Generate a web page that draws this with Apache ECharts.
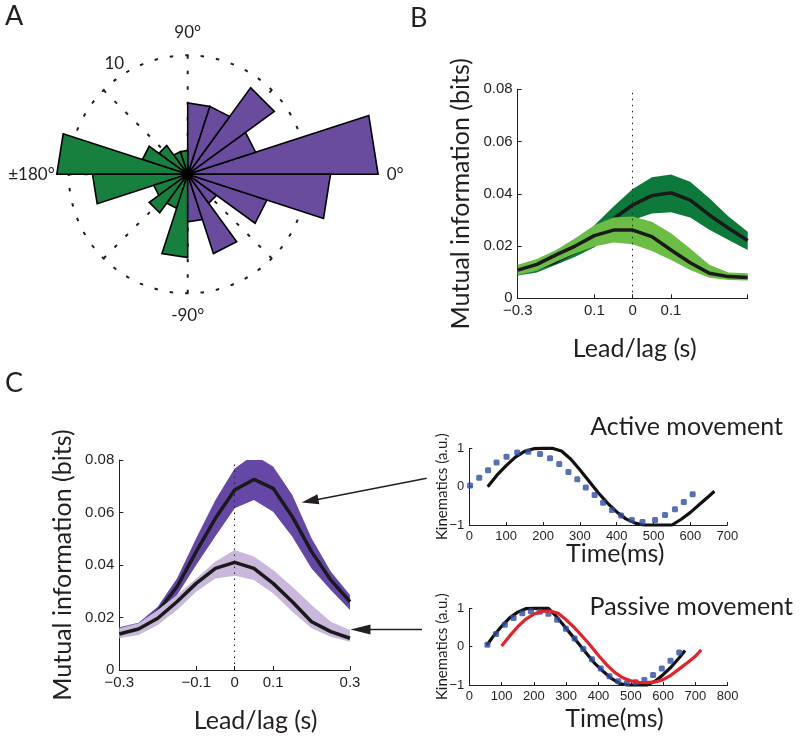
<!DOCTYPE html>
<html><head><meta charset="utf-8">
<script src="https://cdn.jsdelivr.net/npm/echarts@6/dist/echarts.min.js"></script>
<style>html,body{margin:0;padding:0;background:#fff}#c{width:800px;height:744px}</style>
</head><body><div id="c"></div>
<script>
// ---------- Panel A: rose histogram ----------
const roseBinStart = [0,18,36,54,72,90,108,126,144,162,180,198,216,234,252,270,288,306,324,342];
const roseBinEnd   = [18,36,54,72,90,108,126,144,162,180,198,216,234,252,270,288,306,324,342,360];
const roseCounts   = [16,6,9,6,6,2,2,3,4,11,8,3,4,3,7,4,7,3,7,12];
const roseGroup    = [0,0,0,0,0,1,1,1,1,1,1,1,1,1,1,0,0,0,0,0]; // 0 purple, 1 green
const roseAngleTicks  = [0,90,180,270];
const roseAngleLabels = ['0°','90°','±180°','-90°'];

// ---------- Panel B / C: lead-lag ----------
const leadLag = [-0.3,-0.25,-0.2,-0.15,-0.1,-0.05,0,0.05,0.1,0.15,0.2,0.25,0.3];
const darkGreenMean  = [0.0100,0.0115,0.0140,0.0180,0.0230,0.0305,0.0357,0.0393,0.0404,0.0376,0.0319,0.0268,0.0221];
const darkGreenUpper = [0.0112,0.0130,0.0160,0.0210,0.0280,0.0351,0.0418,0.0463,0.0474,0.0446,0.0383,0.0313,0.0255];
const darkGreenLower = [0.0087,0.0099,0.0128,0.0159,0.0195,0.0255,0.0300,0.0325,0.0329,0.0309,0.0262,0.0223,0.0185];
const lightGreenMean  = [0.0108,0.0130,0.0166,0.0200,0.0240,0.0261,0.0261,0.0236,0.0185,0.0136,0.0096,0.0083,0.0080];
const lightGreenUpper = [0.0128,0.0150,0.0185,0.0230,0.0280,0.0309,0.0313,0.0293,0.0249,0.0191,0.0128,0.0099,0.0096];
const lightGreenLower = [0.0089,0.0105,0.0140,0.0172,0.0198,0.0214,0.0207,0.0181,0.0147,0.0108,0.0079,0.0070,0.0068];

const darkPurpleMean  = [0.0149,0.0165,0.0222,0.0317,0.0451,0.0578,0.0686,0.0726,0.0692,0.0584,0.0451,0.0343,0.0260];
const darkPurpleUpper = [0.0163,0.0180,0.0241,0.0349,0.0502,0.0648,0.0768,0.0820,0.0775,0.0667,0.0502,0.0375,0.0286];
const darkPurpleLower = [0.0135,0.0150,0.0195,0.0285,0.0400,0.0510,0.0616,0.0648,0.0603,0.0508,0.0387,0.0305,0.0229];
const lightPurpleMean  = [0.0137,0.0156,0.0197,0.0260,0.0330,0.0387,0.0410,0.0387,0.0330,0.0260,0.0184,0.0146,0.0121];
const lightPurpleUpper = [0.0159,0.0178,0.0229,0.0286,0.0349,0.0413,0.0457,0.0432,0.0381,0.0317,0.0248,0.0184,0.0152];
const lightPurpleLower = [0.0121,0.0133,0.0171,0.0229,0.0298,0.0349,0.0359,0.0343,0.0292,0.0222,0.0159,0.0127,0.0108];

const lagTickValues = [-0.3,-0.1,0,0.1,0.3];
const lagTickLabelsB = ['\u22120.3','0.1','0','0.1',''];
const lagTickLabelsC = ['\u22120.3','\u22120.1','0','0.1','0.3'];
const miTickValues = [0,0.02,0.04,0.06,0.08];
const miTickLabels = ['0','0.02','0.04','0.06','0.08'];

// ---------- Kinematics panels ----------
const activeBlackT = [50,75,100,125,150,175,200,225,250,275,300,325,350,375,400,425,450,475,500,525,550,575,600,625,650,665];
const activeBlackY = [0.0,0.30,0.55,0.77,0.92,0.99,1.0,1.0,0.93,0.72,0.44,0.14,-0.16,-0.43,-0.66,-0.84,-0.95,-1.0,-1.0,-1.0,-1.0,-0.85,-0.67,-0.46,-0.25,-0.12];
const activeBlueT = [2,27,51,74,101,130,160,192,219,244,269,293,316,340,363,387,412,441,470,504,531,558,582,606];
const activeBlueY = [0.03,0.23,0.43,0.63,0.78,0.89,0.91,0.85,0.74,0.59,0.38,0.19,-0.02,-0.22,-0.42,-0.61,-0.75,-0.87,-0.92,-0.87,-0.74,-0.59,-0.40,-0.20];

const passiveBlackT = [54,75,100,125,150,175,200,225,245,265,290,315,340,365,390,415,440,465,490,520,550,575,600,625,650,668];
const passiveBlackY = [0.03,0.28,0.53,0.75,0.90,0.99,1.0,1.0,1.0,0.83,0.58,0.32,0.06,-0.20,-0.45,-0.65,-0.83,-0.96,-1.0,-1.0,-1.0,-0.90,-0.73,-0.53,-0.29,-0.10];
const passiveBlueT = [56,83,110,137,164,191,218,245,272,299,326,353,380,407,434,461,488,515,542,569,596,623,650];
const passiveBlueY = [0.05,0.33,0.57,0.75,0.87,0.92,0.91,0.86,0.70,0.47,0.21,-0.06,-0.33,-0.57,-0.77,-0.90,-0.95,-0.93,-0.87,-0.74,-0.57,-0.37,-0.15];
const passiveRedT = [100,125,150,175,200,225,250,275,300,325,350,375,400,425,450,475,500,525,550,575,600,625,650,675,700,718];
const passiveRedY = [0.02,0.28,0.52,0.72,0.85,0.92,0.93,0.87,0.70,0.50,0.27,0.03,-0.23,-0.47,-0.67,-0.81,-0.89,-0.93,-0.94,-0.92,-0.86,-0.74,-0.58,-0.42,-0.25,-0.08];
const kinTickValues = [-1,0,1];
const kinTickLabels = ['\u22121','0','1'];

// ---------- styling ----------
const INK = '#231f20';
const TICKFONT = '"Liberation Sans", Arial, sans-serif';
const BIGFONT = 'Lato, sans-serif';
const C_PURPLE_A = '#6a4c9e', C_GREEN_A = '#17803f';
const C_DKGREEN = '#0d7a3b', C_LTGREEN = '#6cbd46';
const C_DKPURPLE = '#6547a6', C_LTPURPLE = '#cab7dc';
const C_BLUE = '#2d4ca6', C_RED = '#e4222a';

function pick(vals, labels) {
  return v => { for (let i = 0; i < vals.length; i++) if (Math.abs(v - vals[i]) < 1e-9) return labels[i]; return ''; };
}
function zip(xs, ys) { return xs.map((x, i) => [x, ys[i]]); }

function xAx(g, min, max, interval, tickVals, labels, name, gap, padLeft, fs, tl) {
  return {
    gridIndex: g, type: 'value', min, max, interval,
    axisLine: { show: true, onZero: false, lineStyle: { color: INK, width: 1 } },
    axisTick: { show: true, inside: true, length: tl, customValues: tickVals, lineStyle: { color: INK } },
    axisLabel: { customValues: tickVals, formatter: pick(tickVals, labels), fontFamily: TICKFONT, fontSize: fs, color: INK, margin: 5, showMinLabel: true, showMaxLabel: true },
    splitLine: { show: false },
    name, nameLocation: 'middle', nameGap: gap, nameMoveOverlap: false,
    nameTextStyle: { fontFamily: BIGFONT, fontSize: 25, color: INK, padding: [0, 0, 0, padLeft] }
  };
}
function yAx(g, min, max, interval, tickVals, labels, name, gap, fs, nfs, tl) {
  return {
    gridIndex: g, type: 'value', min, max, interval,
    axisLine: { show: true, onZero: false, lineStyle: { color: INK, width: 1 } },
    axisTick: { show: true, inside: true, length: tl, customValues: tickVals, lineStyle: { color: INK } },
    axisLabel: { customValues: tickVals, formatter: pick(tickVals, labels), fontFamily: TICKFONT, fontSize: fs, color: INK, margin: 5, showMinLabel: true, showMaxLabel: true },
    splitLine: { show: false },
    name, nameLocation: 'middle', nameGap: gap, nameMoveOverlap: false,
    nameTextStyle: { fontFamily: BIGFONT, fontSize: nfs, color: INK }
  };
}
// confidence band drawn as one polygon through the axis scales
function band(g, lower, upper, color, z) {
  return {
    type: 'custom', xAxisIndex: g, yAxisIndex: g, clip: true, silent: true, z,
    data: leadLag.map((x, i) => [x, lower[i], upper[i]]),
    encode: { x: 0, y: [1, 2] },
    renderItem: (params, api) => {
      if (params.dataIndex !== 0) return null;
      const up = [], lo = [];
      for (let i = 0; i < leadLag.length; i++) {
        up.push(api.coord([leadLag[i], upper[i]]));
        lo.push(api.coord([leadLag[i], lower[i]]));
      }
      return { type: 'polygon', shape: { points: up.concat(lo.reverse()) }, style: { fill: color } };
    }
  };
}
function meanLine(g, vals, z, extra) {
  return Object.assign({ type: 'line', xAxisIndex: g, yAxisIndex: g, data: zip(leadLag, vals), symbol: 'none', silent: true, z,
    lineStyle: { color: '#1a1a1a', width: 3.5 } }, extra || {});
}
const zeroMark = { symbol: 'none', silent: true, label: { show: false },
  lineStyle: { type: [1.5, 4.5], color: INK, width: 1 }, data: [{ xAxis: 0 }] };

const roseData = roseBinStart.map((s, i) => [s, roseBinEnd[i], roseCounts[i], roseGroup[i]]);

// arrows (annotation)
const arrowTails = [[426.7, 478.3], [422, 629.5]];
const arrowTips  = [[301.7, 502.5], [350.5, 629.5]];
const arrowHeadLen = [17, 20];
const arrowGraphics = [];
arrowTails.forEach((t, i) => {
  const p = arrowTips[i];
  const dx = p[0] - t[0], dy = p[1] - t[1], L = Math.hypot(dx, dy);
  const ux = dx / L, uy = dy / L, nx = -uy, ny = ux;
  const h = arrowHeadLen[i], w = 5;
  const bx = p[0] - ux * h, by = p[1] - uy * h;
  arrowGraphics.push({ type: 'line', z: 100, shape: { x1: t[0], y1: t[1], x2: bx + ux * 2, y2: by + uy * 2 }, style: { stroke: INK, lineWidth: 1.5 } });
  arrowGraphics.push({ type: 'polygon', z: 100, shape: { points: [p, [bx + nx * w, by + ny * w], [bx - nx * w, by - ny * w]] }, style: { fill: INK } });
});

const chart = echarts.init(document.getElementById('c'), null, { renderer: 'canvas' });
const letterStyle = { fontFamily: BIGFONT, fontSize: 27, fontWeight: 'normal', color: INK };
const headStyle = { fontFamily: BIGFONT, fontSize: 25, fontWeight: 'normal', color: INK };

chart.setOption({
  backgroundColor: '#fff',
  animation: false,
  title: [
    { text: 'A', left: 5, top: 3, padding: 0, textStyle: letterStyle },
    { text: 'B', left: 410, top: 5, padding: 0, textStyle: letterStyle },
    { text: 'C', left: 5, top: 370, padding: 0, textStyle: letterStyle },
    { text: 'Active movement', right: 17, top: 414, padding: 0, textStyle: headStyle },
    { text: 'Passive movement', right: 7, top: 594, padding: 0, textStyle: headStyle }
  ],
  polar: { center: [187.7, 174.3], radius: 119 },
  angleAxis: {
    type: 'value', min: 0, max: 360, interval: 45, startAngle: 0, clockwise: false,
    axisLine: { show: true, lineStyle: { color: INK, width: 2, type: [3.5, 12] } },
    axisTick: { show: false },
    splitLine: { show: true, lineStyle: { color: INK, width: 2, type: [3.5, 12] } },
    axisLabel: {
      show: true, margin: 14, fontFamily: BIGFONT, fontSize: 17, color: INK,
      formatter: v => { const s = pick(roseAngleTicks, roseAngleLabels)(v); return v === 0 ? '{z|' + s + '}' : s; },
      rich: { z: { padding: [0, 0, 0, 66], fontFamily: BIGFONT, fontSize: 17, color: INK } }
    }
  },
  radiusAxis: { type: 'value', min: 0, max: 10, axisLine: { show: false }, axisTick: { show: false }, axisLabel: { show: false }, splitLine: { show: false } },
  grid: [
    { left: 517.7, top: 89.3, width: 230, height: 209, containLabel: false, outerBoundsMode: 'none' },
    { left: 119.3, top: 460, width: 230.7, height: 210, containLabel: false, outerBoundsMode: 'none' },
    { left: 469.3, top: 448.3, width: 258, height: 76.7, containLabel: false, outerBoundsMode: 'none' },
    { left: 469.3, top: 608.3, width: 258.4, height: 76.7, containLabel: false, outerBoundsMode: 'none' }
  ],
  xAxis: [
    xAx(0, -0.3, 0.3, 0.1, lagTickValues, lagTickLabelsB, 'Lead/lag (s)', 38, 4, 15, 4),
    xAx(1, -0.3, 0.3, 0.1, lagTickValues, lagTickLabelsC, 'Lead/lag (s)', 38, 42, 15, 4),
    xAx(2, 0, 700, 100, [0,100,200,300,400,500,600,700], ['0','100','200','300','400','500','600','700'], 'Time(ms)', 16, 34, 13, 3),
    xAx(3, 0, 800, 100, [0,100,200,300,400,500,600,700,800], ['0','100','200','300','400','500','600','700','800'], 'Time(ms)', 21, 32, 13, 3)
  ],
  yAxis: [
    yAx(0, 0, 0.08, 0.02, miTickValues, miTickLabels, 'Mutual information (bits)', 44, 15, 25, 4),
    yAx(1, 0, 0.08, 0.02, miTickValues, miTickLabels, 'Mutual information (bits)', 44, 15, 25, 4),
    yAx(2, -1, 1, 1, kinTickValues, kinTickLabels, 'Kinematics (a.u.)', 20, 13, 15, 3),
    yAx(3, -1, 1, 1, kinTickValues, kinTickLabels, 'Kinematics (a.u.)', 20, 13, 15, 3)
  ],
  graphic: [
    { type: 'text', z: 100, x: 114.3, y: 63.3, style: { text: '10', fontFamily: BIGFONT, fontSize: 17, fill: INK, align: 'center', verticalAlign: 'middle' } }
  ].concat(arrowGraphics),
  series: [
    {
      type: 'custom', coordinateSystem: 'polar', data: roseData, silent: true, z: 3,
      renderItem: (params, api) => {
        const a0 = api.value(0), a1 = api.value(1), r = api.value(2), g = api.value(3);
        const c = api.coord([0, a0]).slice(0, 2);
        const p0 = api.coord([r, a0]).slice(0, 2);
        const p1 = api.coord([r, a1]).slice(0, 2);
        return { type: 'polygon', shape: { points: [c, p0, p1] },
          style: { fill: g ? C_GREEN_A : C_PURPLE_A, stroke: '#000', lineWidth: 1.6, lineJoin: 'miter', miterLimit: 10 } };
      }
    },
    // Panel B
    band(0, darkGreenLower, darkGreenUpper, C_DKGREEN, 2),
    meanLine(0, darkGreenMean, 3),
    band(0, lightGreenLower, lightGreenUpper, C_LTGREEN, 4),
    meanLine(0, lightGreenMean, 5, { markLine: zeroMark }),
    // Panel C
    band(1, darkPurpleLower, darkPurpleUpper, C_DKPURPLE, 2),
    meanLine(1, darkPurpleMean, 3),
    band(1, lightPurpleLower, lightPurpleUpper, C_LTPURPLE, 4),
    meanLine(1, lightPurpleMean, 5, { markLine: zeroMark }),
    // Active
    { type: 'line', xAxisIndex: 2, yAxisIndex: 2, data: zip(activeBlackT, activeBlackY), symbol: 'none', clip: false, silent: true, z: 3,
      lineStyle: { color: '#111', width: 3.2 } },
    { type: 'scatter', xAxisIndex: 2, yAxisIndex: 2, data: zip(activeBlueT, activeBlueY), symbol: 'roundRect', symbolSize: 6, clip: false, silent: true, z: 4,
      itemStyle: { color: C_BLUE } },
    // Passive
    { type: 'line', xAxisIndex: 3, yAxisIndex: 3, data: zip(passiveBlackT, passiveBlackY), symbol: 'none', clip: false, silent: true, z: 3,
      lineStyle: { color: '#111', width: 3.2 } },
    { type: 'scatter', xAxisIndex: 3, yAxisIndex: 3, data: zip(passiveBlueT, passiveBlueY), symbol: 'roundRect', symbolSize: 6, clip: false, silent: true, z: 4,
      itemStyle: { color: C_BLUE } },
    { type: 'line', xAxisIndex: 3, yAxisIndex: 3, data: zip(passiveRedT, passiveRedY), symbol: 'none', clip: false, silent: true, z: 5,
      lineStyle: { color: C_RED, width: 3.2 } }
  ]
});
</script></body></html>
